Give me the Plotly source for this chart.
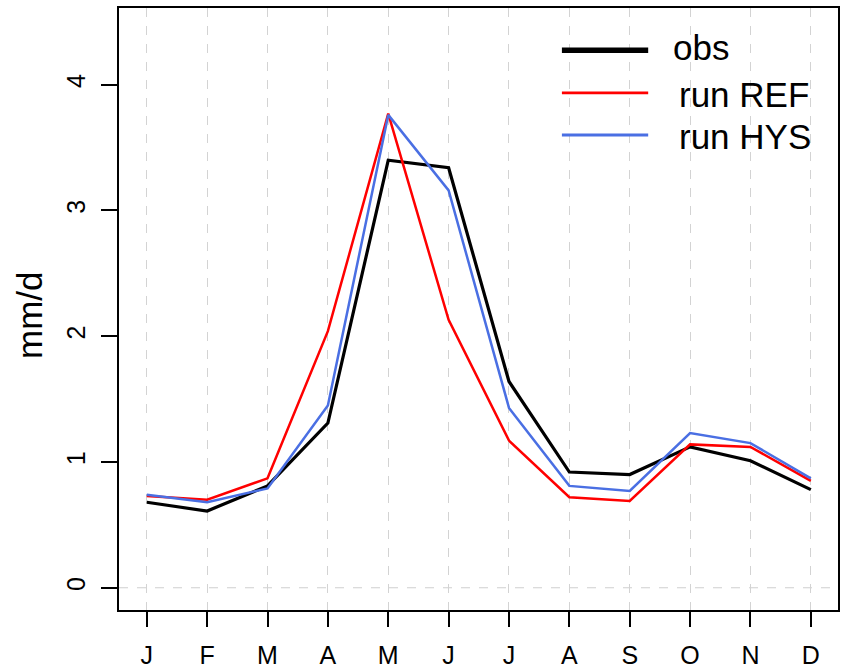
import plotly.graph_objects as go

months = ["J", "F", "M", "A", "M", "J", "J", "A", "S", "O", "N", "D"]
month_idx = list(range(1, 13))
obs = [0.68, 0.61, 0.81, 1.31, 3.40, 3.34, 1.64, 0.92, 0.90, 1.12, 1.01, 0.78]
run_ref = [0.73, 0.70, 0.87, 2.04, 3.77, 2.13, 1.17, 0.72, 0.69, 1.14, 1.12, 0.85]
run_hys = [0.74, 0.68, 0.79, 1.45, 3.76, 3.16, 1.43, 0.81, 0.77, 1.23, 1.15, 0.87]
y_ticks = [0, 1, 2, 3, 4]

series = [
    ("obs", obs, "black", 3.2, 5.5),
    ("run REF", run_ref, "#ff0000", 2.5, 2.8),
    ("run HYS", run_hys, "#4a6fe3", 2.5, 2.8),
]

FONT = "Liberation Sans, Arial, Helvetica, sans-serif"

fig = go.Figure()
for name, vals, color, w, _ in series:
    fig.add_trace(go.Scatter(x=month_idx, y=vals, mode="lines", name=name,
                             line=dict(color=color, width=w), showlegend=False))

shapes = [
    # white legend background covering grid lines
    dict(type="rect", xref="paper", yref="paper", x0=0.57, x1=0.998, y0=0.718, y1=0.997,
         fillcolor="white", line=dict(width=0), layer="below"),
    # dashed horizontal line at 0
    dict(type="line", xref="paper", yref="y", x0=0, x1=1, y0=0, y1=0,
         line=dict(color="#cfcfcf", width=1.2, dash="dash"), layer="below"),
]
annotations = [
    dict(text="mm/d", xref="paper", yref="paper", x=0, y=0.49, xanchor="center", yanchor="middle",
         xshift=-90, textangle=-90, showarrow=False, font=dict(size=35, color="black", family=FONT)),
]
# custom legend
leg_line_y = [0.930, 0.859, 0.789]
leg_text_y = [0.9346, 0.8565, 0.7867]
leg_text_x = [0.768, 0.776, 0.776]
for (name, vals, color, w, lw), ly, ty, tx in zip(series, leg_line_y, leg_text_y, leg_text_x):
    shapes.append(dict(type="line", xref="paper", yref="paper", x0=0.616, x1=0.736, y0=ly, y1=ly,
                       line=dict(color=color, width=lw)))
    annotations.append(dict(text=name, xref="paper", yref="paper", x=tx,
                            y=ty, xanchor="left", yanchor="middle", showarrow=False,
                            font=dict(size=35, color="black", family=FONT)))

fig.update_layout(
    width=844, height=668,
    margin=dict(l=119, r=6, t=8, b=58, autoexpand=False),
    paper_bgcolor="white", plot_bgcolor="white",
    font=dict(family=FONT, color="black"),
    shapes=shapes, annotations=annotations,
    xaxis=dict(range=[0.54, 12.45], tickvals=month_idx, ticktext=months,
               showgrid=True, gridcolor="#d3d3d3", griddash="dash", gridwidth=1.2,
               showline=True, linecolor="black", linewidth=1.5, mirror=True,
               ticks="outside", ticklen=15, tickwidth=1.5, tickcolor="black",
               tickfont=dict(size=25, family=FONT), ticklabelstandoff=7, zeroline=False,
               automargin=False),
    yaxis=dict(range=[-0.177, 4.61], tickvals=y_ticks,
               showgrid=False,
               showline=True, linecolor="black", linewidth=1.5, mirror=True,
               ticks="outside", ticklen=16, tickwidth=1.5, tickcolor="black",
               tickangle=-90, tickfont=dict(size=25, family=FONT), ticklabelstandoff=6,
               zeroline=False, automargin=False),
)
fig.write_html("out.html")
